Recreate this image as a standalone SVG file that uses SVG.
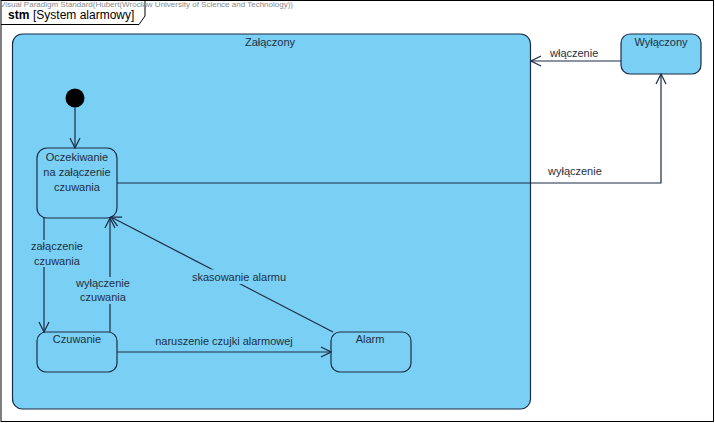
<svg xmlns="http://www.w3.org/2000/svg" width="715" height="423" viewBox="0 0 715 423">
<defs>
<style>
.frame{fill:#fff;stroke:#000;stroke-width:1}
.state{fill:#7ACFF5;stroke:#1b2b44;stroke-width:1.2}
.t{font-family:"Liberation Sans",Arial,sans-serif;font-size:11px;fill:#1f2f3f}
.c{text-anchor:middle}
.edge{fill:none;stroke:#1b2b44;stroke-width:1.2}
.lbg{fill:#7ACFF5;stroke:none}
.wm{font-family:"Liberation Sans",Arial,sans-serif;font-size:7.5px;fill:#8a8a8a}
</style>
<marker id="open" viewBox="0 0 12 12" markerWidth="12" markerHeight="12" refX="11" refY="6" orient="auto" markerUnits="userSpaceOnUse">
<path d="M1,1 L11,6 L1,11" fill="none" stroke="#1b2b44" stroke-width="1.2"/>
</marker>
</defs>
<rect x="0" y="0" width="715" height="423" fill="#fff"/>
<g id="frame">
<rect class="frame" x="1" y="0.5" width="712.5" height="421"/>
<path d="M1,24.5 L139,24.5 L145,16 L145,0.5" fill="none" stroke="#000" stroke-width="1"/>
<text class="wm" x="0" y="6.5" textLength="293" lengthAdjust="spacingAndGlyphs">Visual Paradigm Standard(Hubert(Wrocław University of Science and Technology))</text>
<text x="8" y="18.5" font-family="Liberation Sans,Arial,sans-serif" font-size="12" font-weight="bold" fill="#000">stm</text>
<text x="33" y="18.5" font-family="Liberation Sans,Arial,sans-serif" font-size="12" fill="#000">[System alarmowy]</text>
</g>
<g id="zalaczony">
<rect class="state" x="12.5" y="34" width="518" height="375" rx="10"/>
<text class="t c" x="270" y="46">Załączony</text>
</g>
<g id="wylaczony">
<rect class="state" x="621" y="34" width="80" height="40" rx="9"/>
<text class="t c" x="661" y="46">Wyłączony</text>
</g>
<g id="initial">
<circle cx="75" cy="98" r="9.5" fill="#000"/>
</g>
<g id="oczekiwanie">
<rect class="state" x="37" y="148" width="80" height="70" rx="10"/>
<text class="t c" x="77" y="161">Oczekiwanie</text>
<text class="t c" x="77" y="176">na załączenie</text>
<text class="t c" x="77" y="191">czuwania</text>
</g>
<g id="czuwanie">
<rect class="state" x="37" y="332" width="80" height="40" rx="9"/>
<text class="t c" x="77" y="343">Czuwanie</text>
</g>
<g id="alarm">
<rect class="state" x="331" y="332" width="80" height="40" rx="9"/>
<text class="t c" x="370" y="343">Alarm</text>
</g>
<g id="connectors">
<path class="edge" d="M621,61 L531,61" marker-end="url(#open)"/>
<text class="t" x="550" y="57">włączenie</text>
<path class="edge" d="M117,183 L661,183 L661,74" marker-end="url(#open)"/>
<text class="t" x="548" y="175">wyłączenie</text>
<path class="edge" d="M75,107.5 L75,148" marker-end="url(#open)"/>
<path class="edge" d="M44,218 L44,332" marker-end="url(#open)"/>
<rect class="lbg" x="30" y="240" width="54" height="27"/>
<text class="t c" x="57" y="250">załączenie</text>
<text class="t c" x="57" y="265">czuwania</text>
<path class="edge" d="M110,332 L110,218" marker-end="url(#open)"/>
<rect class="lbg" x="76" y="277" width="54" height="27"/>
<text class="t c" x="103" y="287">wyłączenie</text>
<text class="t c" x="103" y="301">czuwania</text>
<path class="edge" d="M333,332 L111,217" marker-end="url(#open)"/>
<rect class="lbg" x="190" y="269.5" width="98" height="14.5"/>
<text class="t c" x="239" y="281">skasowanie alarmu</text>
<path class="edge" d="M117,352 L331,352" marker-end="url(#open)"/>
<text class="t c" x="224" y="345">naruszenie czujki alarmowej</text>
</g>
</svg>
